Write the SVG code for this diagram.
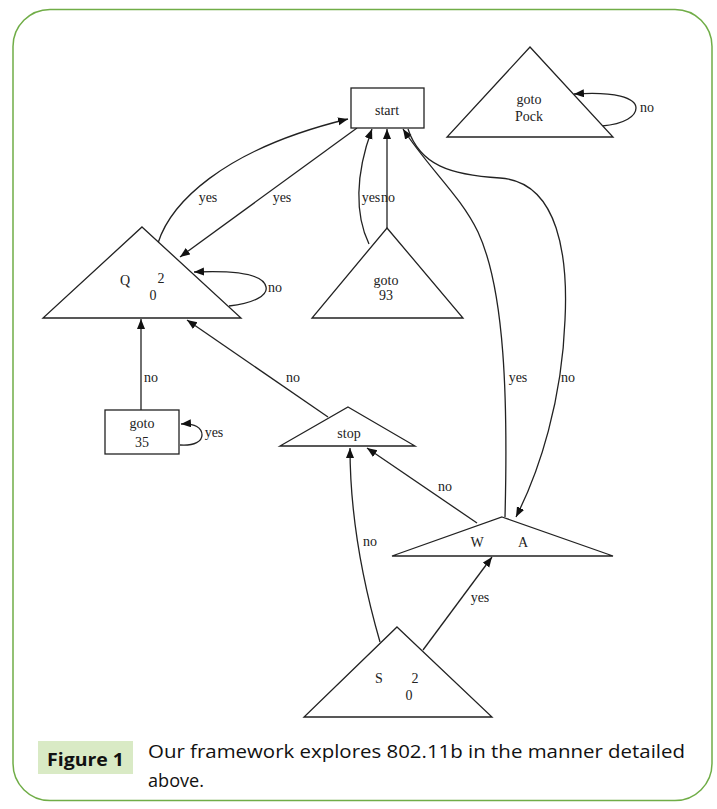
<svg xmlns="http://www.w3.org/2000/svg" width="717" height="809" viewBox="0 0 717 809">
<style>
.n{fill:#fff;stroke:#222;stroke-width:1.3}
.e{fill:none;stroke:#222;stroke-width:1.3}
.t{font-family:"Liberation Serif",serif;font-size:14px;fill:#222;text-anchor:middle}
.l{font-family:"Liberation Serif",serif;font-size:14px;fill:#222;text-anchor:middle}
.cap{font-family:"Open Sans","Liberation Sans",sans-serif;font-size:18px;fill:#111}
</style>
<defs>
<marker id="ah" markerUnits="userSpaceOnUse" markerWidth="12" markerHeight="10" refX="10" refY="4" orient="auto">
<path d="M0,0 L10,4 L0,8 Z" fill="#111"/>
</marker>
</defs>
<rect width="717" height="809" fill="#fff"/>
<rect x="13" y="9.5" width="699" height="791" rx="37" ry="37" fill="none" stroke="#70ad47" stroke-width="1.5"/>

<g id="connectors">
<path class="e" d="M158,243 C170,205 220,150 348,119" marker-end="url(#ah)"/>
<path class="e" d="M357,128 L180,257" marker-end="url(#ah)"/>
<path class="e" d="M387,228 L387,129" marker-end="url(#ah)"/>
<path class="e" d="M369,244 C355,215 355,175 372,129" marker-end="url(#ah)"/>
<path class="e" d="M505,517 C508,400 505,290 478,232 C460,195 430,170 403,129" marker-end="url(#ah)"/>
<path class="e" d="M408,129 C420,165 450,175 500,178 C560,182 568,260 565,320 C562,400 540,470 516,517" marker-end="url(#ah)"/>
<path class="e" d="M141,410 L141,319" marker-end="url(#ah)"/>
<path class="e" d="M328,417 L187,320" marker-end="url(#ah)"/>
<path class="e" d="M477,523 L367,448" marker-end="url(#ah)"/>
<path class="e" d="M380,642 C365,590 350,520 350,448" marker-end="url(#ah)"/>
<path class="e" d="M423,650 L492,557" marker-end="url(#ah)"/>
<path class="e" d="M229,306 C255,303 268,295 266,287 C264,275 240,270 194,272" marker-end="url(#ah)"/>
<path class="e" d="M602,126 C625,124 636,116 636,108 C636,98 615,91 574,94" marker-end="url(#ah)"/>
<path class="e" d="M180,445 C195,446 202,441 202,435 C202,428 195,423 181,424" marker-end="url(#ah)"/>
<text class="l" x="208" y="202">yes</text>
<text class="l" x="282" y="202">yes</text>
<text class="l" x="371" y="202">yes</text>
<text class="l" x="388" y="202">no</text>
<text class="l" x="275" y="292">no</text>
<text class="l" x="647" y="112">no</text>
<text class="l" x="214" y="437">yes</text>
<text class="l" x="151" y="382">no</text>
<text class="l" x="293" y="382">no</text>
<text class="l" x="518" y="382">yes</text>
<text class="l" x="568" y="382">no</text>
<text class="l" x="445" y="491">no</text>
<text class="l" x="370" y="546">no</text>
<text class="l" x="480" y="602">yes</text>
</g>

<g id="start">
<rect class="n" x="351" y="88" width="73" height="40"/>
<text class="t" x="387" y="115">start</text>
</g>
<g id="gotoPock">
<polygon class="n" points="530,47 613,137 447,137"/>
<text class="t" x="529" y="104">goto</text>
<text class="t" x="529" y="121">Pock</text>
</g>
<g id="Q20">
<polygon class="n" points="142,227 241,318 43,318"/>
<text class="t" x="125" y="285">Q</text>
<text class="t" x="161" y="283">2</text>
<text class="t" x="153" y="300">0</text>
</g>
<g id="goto93">
<polygon class="n" points="387,228 463,318 312,318"/>
<text class="t" x="386" y="285">goto</text>
<text class="t" x="386" y="300">93</text>
</g>
<g id="goto35">
<rect class="n" x="105" y="410" width="74" height="44"/>
<text class="t" x="142" y="428">goto</text>
<text class="t" x="142" y="447">35</text>
</g>
<g id="stop">
<polygon class="n" points="348,407 415,446 280,446"/>
<text class="t" x="349" y="438">stop</text>
</g>
<g id="WA">
<polygon class="n" points="502,517 613,556 392,556"/>
<text class="t" x="477" y="547">W</text>
<text class="t" x="523" y="547">A</text>
</g>
<g id="S20">
<polygon class="n" points="397,627 492,717 304,717"/>
<text class="t" x="379" y="683">S</text>
<text class="t" x="415" y="683">2</text>
<text class="t" x="409" y="700">0</text>
</g>

<g id="caption">
<rect x="38" y="741" width="95" height="33" fill="#d9eac5"/>
<text class="cap" x="47" y="766" font-weight="bold" textLength="77" lengthAdjust="spacingAndGlyphs">Figure 1</text>
<text class="cap" x="148" y="758" textLength="537" lengthAdjust="spacingAndGlyphs">Our framework explores 802.11b in the manner detailed</text>
<text class="cap" x="148" y="787" textLength="56" lengthAdjust="spacingAndGlyphs">above.</text>
</g>
</svg>
